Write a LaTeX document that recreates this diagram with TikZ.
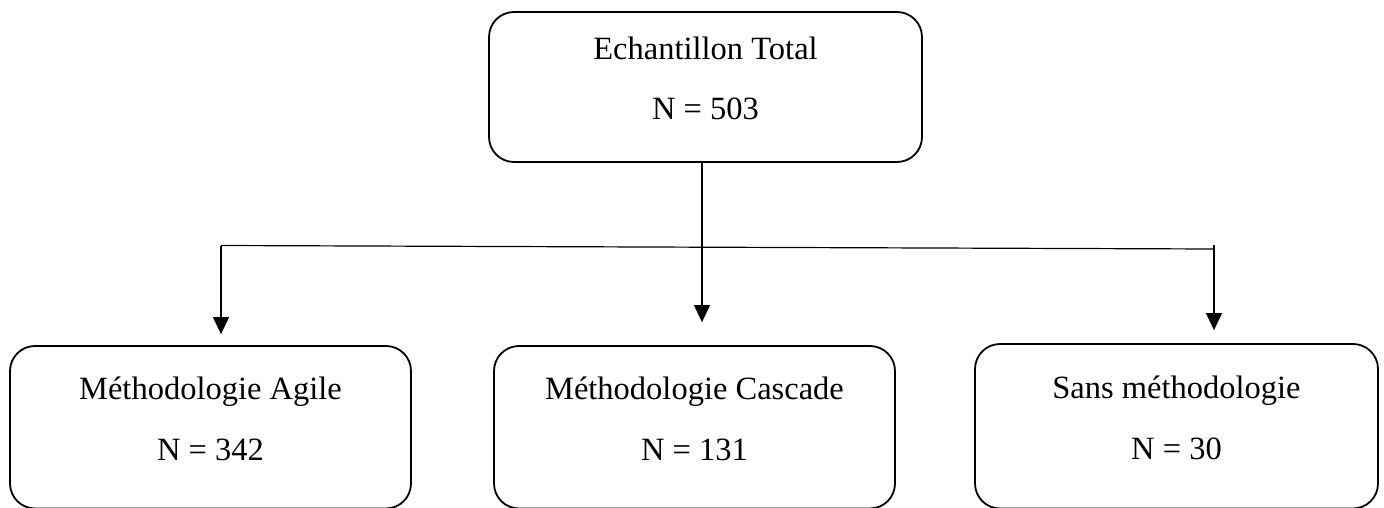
\documentclass[tikz,border=0pt]{standalone}
\usepackage{fontspec}
\setmainfont{Liberation Serif}
\usetikzlibrary{arrows.meta}

\begin{document}
\begin{tikzpicture}[x=1pt, y=-1pt, font=\fontsize{32.5}{60.5}\selectfont]
	\tikzstyle{group}=[draw, line width=1.8pt, rounded corners=25pt, align=center, inner sep=0pt, text height=79pt, text depth=13pt]
	\tikzstyle{link}=[line width=1.2pt, -{Triangle[width=16pt,length=17pt]}]
	
	\clip (0,0) rectangle (1384,508);
	
	\node[group, minimum width=433pt, minimum height=150pt](total) at (705.5,87){Echantillon Total\\N = 503};
	\node[group, minimum width=401pt, minimum height=162.5pt](agile) at (210.5,427.25){Méthodologie Agile\\N = 342};
	\node[group, minimum width=401pt, minimum height=162.5pt](cascade) at (694.5,427.25){Méthodologie Cascade\\N = 131};
	\node[group, minimum width=403pt, minimum height=164.5pt](sans) at (1176.5,426.25){Sans méthodologie\\N = 30};
	
	\coordinate (total-out) at ([xshift=-3.5pt]total.south);
	\coordinate (bar-left) at (221,245.5);
	\coordinate (bar-right) at (1214,249);
	\coordinate (agile-in) at ([yshift=11pt]agile.north -| bar-left);
	\coordinate (cascade-in) at ([yshift=23pt]cascade.north -| total-out);
	\coordinate (sans-in) at ([yshift=13pt]sans.north -| bar-right);
	
	\draw[link] (total-out) -- (cascade-in);
	\draw[line width=1.2pt] (bar-left) -- (bar-right);
	\draw[link] (bar-left) -- (agile-in);
	\draw[link] ([yshift=4pt]bar-right) -- (sans-in);
\end{tikzpicture}
\end{document}
